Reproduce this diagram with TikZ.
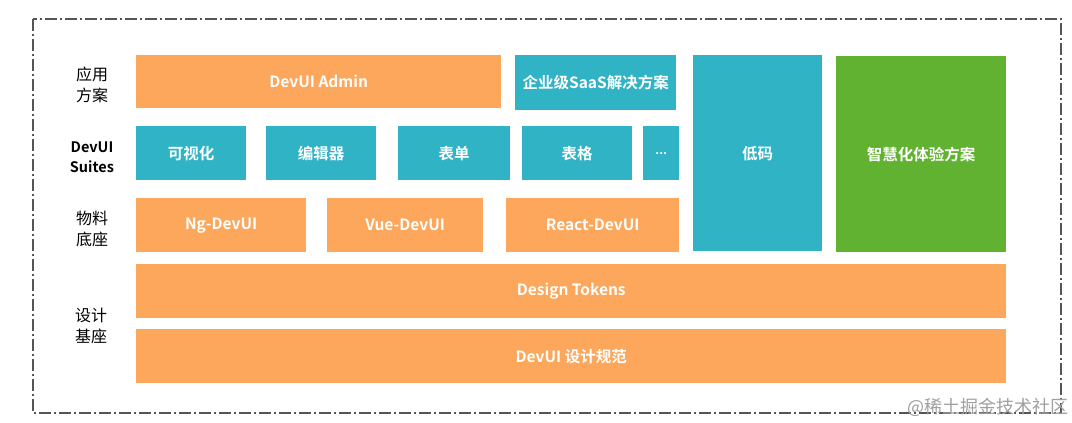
\documentclass[tikz,border=0pt]{standalone}
\usepackage{fontspec}
\setmainfont{Noto Sans CJK SC}[BoldFont={Noto Sans CJK SC Bold}]
\definecolor{oran}{RGB}{252,167,92}
\definecolor{teal}{RGB}{47,179,197}
\definecolor{grn}{RGB}{98,178,49}
\definecolor{frame}{RGB}{85,85,85}
\begin{document}
\begin{tikzpicture}[x=1pt,y=-1pt,
  box/.style={anchor=north west,inner sep=0pt,text=white,font=\bfseries\fontsize{15.5}{18}\selectfont},
  lbl/.style={align=center,font=\fontsize{16}{21}\selectfont,text=black},
  lblb/.style={align=center,font=\bfseries\fontsize{14.5}{20}\selectfont,text=black}]
\useasboundingbox (0,0) rectangle (1072,423);
\fill[white] (0,0) rectangle (1072,423);
\draw[frame,line width=1.6pt,dash pattern=on 12pt off 3pt on 2pt off 3pt] (33,19) rectangle (1061,413);
% row 1
\node[box,fill=oran,minimum width=365,minimum height=53] (admin) at (136,55) {DevUI Admin};
\node[box,fill=teal,minimum width=161,minimum height=55] (saas) at (515,55) {企业级SaaS解决方案};
\node[box,fill=teal,minimum width=129,minimum height=196] (lowcode) at (693,55) {低码};
\node[box,fill=grn,minimum width=170,minimum height=196] (smart) at (836,56) {智慧化体验方案};
% row 2
\node[box,fill=teal,minimum width=110,minimum height=54] (vis) at (136,126) {可视化};
\node[box,fill=teal,minimum width=110,minimum height=54] (edit) at (266,126) {编辑器};
\node[box,fill=teal,minimum width=112,minimum height=54] (form) at (398,126) {表单};
\node[box,fill=teal,minimum width=110,minimum height=54] (table) at (522,126) {表格};
\node[box,fill=teal,minimum width=36,minimum height=54,font=\bfseries\fontsize{12}{14}\selectfont] (more) at (643,126) {...};
% row 3
\node[box,fill=oran,minimum width=170,minimum height=54] (ng) at (136,198) {Ng-DevUI};
\node[box,fill=oran,minimum width=156,minimum height=54] (vue) at (327,198) {Vue-DevUI};
\node[box,fill=oran,minimum width=173,minimum height=54] (react) at (506,198) {React-DevUI};
% base
\node[box,fill=oran,minimum width=870,minimum height=54] (tokens) at (136,264) {Design Tokens};
\node[box,fill=oran,minimum width=870,minimum height=54] (spec) at (136,329) {DevUI 设计规范};
% labels
\node[lbl] (l1) at (92,85) {应用\\方案};
\node[lblb] (l2) at (92,157) {DevUI\\Suites};
\node[lbl] (l3) at (92,229) {物料\\底座};
\node[lbl] (l4) at (91,326) {设计\\基座};
% watermark
\node[anchor=east,text={rgb,255:red,160;green,160;blue,160},font=\fontsize{18}{20}\selectfont,inner sep=0pt] (wm) at (1069,407) {@稀土掘金技术社区};
\end{tikzpicture}
\end{document}
